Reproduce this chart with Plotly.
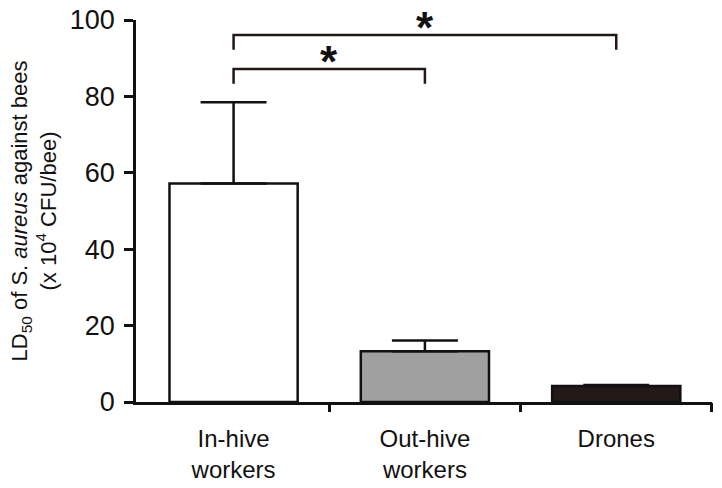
import plotly.graph_objects as go

categories = ["In-hive<br>workers", "Out-hive<br>workers", "Drones"]
ld50_values = [57.2, 13.3, 4.2]
error_upper = [21.3, 2.8, 0.25]
bar_colors = ["#ffffff", "#a0a0a0", "#231a17"]

# significance comparisons (category index pairs), bracket levels
comparisons = [(0, 1), (0, 2)]
bracket_levels = [87.2, 96.1]
bracket_drop = 3.9
star_labels = ["*", "*"]

FONT = "Liberation Sans, Arial, sans-serif"
INK = "#111111"

fig = go.Figure()
fig.add_trace(go.Bar(
    x=[0, 1, 2],
    y=ld50_values,
    width=0.67,
    marker=dict(color=bar_colors, line=dict(color=INK, width=2.5)),
    error_y=dict(type="data", symmetric=False, array=error_upper,
                 arrayminus=[0, 0, 0], width=33, thickness=2.5, color=INK),
    showlegend=False,
))

shapes = []
annotations = []
for (a, b), lvl, star in zip(comparisons, bracket_levels, star_labels):
    shapes.append(dict(
        type="path", xref="x", yref="y",
        path=f"M {a},{lvl - bracket_drop} L {a},{lvl} L {b},{lvl} L {b},{lvl - bracket_drop}",
        line=dict(color="#231815", width=2.5),
    ))
    annotations.append(dict(
        x=(a + b) / 2, y=lvl, xref="x", yref="y",
        text=f"<b>{star}</b>", showarrow=False, yanchor="bottom", yshift=0,
        height=30, valign="top",
        font=dict(family=FONT, size=44, color=INK),
    ))

fig.update_layout(
    width=722, height=488,
    margin=dict(l=136, r=10, t=20, b=86),
    paper_bgcolor="white", plot_bgcolor="white",
    font=dict(family=FONT, color=INK),
    shapes=shapes, annotations=annotations,
)
XRANGE = [-0.51, 2.5005]
fig.update_xaxes(
    range=XRANGE, automargin=False,
    tickmode="array", tickvals=[0, 1, 2], ticktext=categories,
    ticks="", showline=True, linecolor=INK, linewidth=2.5,
    showgrid=False, zeroline=False, ticklabelstandoff=13,
    tickfont=dict(family=FONT, size=24, color=INK),
)
# boundary tick marks via a second overlaying axis
fig.update_layout(xaxis2=dict(
    overlaying="x", side="bottom", range=XRANGE, automargin=False,
    tickmode="array", tickvals=[0.5, 1.5, 2.5], showticklabels=False,
    ticks="outside", ticklen=9, tickwidth=2.5, tickcolor=INK,
    showline=False, showgrid=False, zeroline=False,
))
fig.add_trace(go.Scatter(x=[0.5], y=[0], xaxis="x2", mode="markers",
                         marker=dict(opacity=0), showlegend=False, hoverinfo="skip"))
fig.update_yaxes(
    range=[0, 100], tickmode="array", tickvals=[0, 20, 40, 60, 80, 100],
    automargin=False, ticklabeloverflow="allow",
    ticks="outside", ticklen=9, tickwidth=2.5, tickcolor=INK,
    showline=True, linecolor=INK, linewidth=2.5,
    showgrid=False, zeroline=False, ticklabelstandoff=4,
    tickfont=dict(family=FONT, size=27, color=INK),
    title=dict(text="LD<sub>50</sub> of S. <i>aureus</i> against bees<br>(x 10<sup>4</sup> CFU/bee)",
               font=dict(family=FONT, size=22, color=INK), standoff=8),
)

# remove the default 8px page margin so the figure sits at the window's corner
fig.write_html("out.html", config={"displayModeBar": False},
               post_script="document.body.style.margin='0px';")
